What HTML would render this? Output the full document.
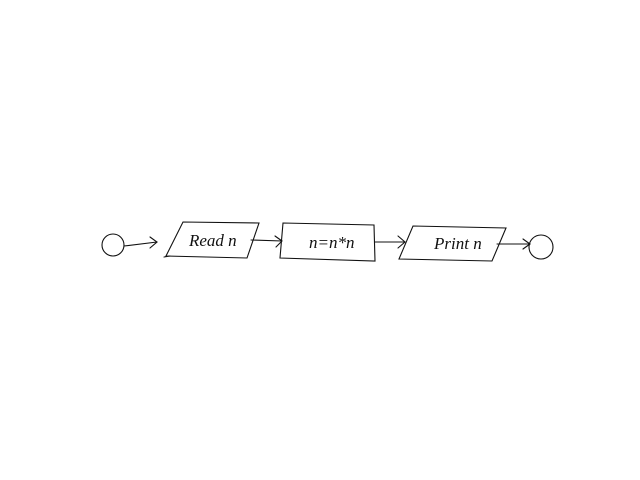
<!DOCTYPE html>
<html><head><meta charset="utf-8"><style>
html,body{margin:0;padding:0;background:#fff;width:640px;height:480px;overflow:hidden}
svg{display:block}
text{font-family:"Liberation Serif",serif;font-style:italic;font-size:17px;fill:#111}
</style></head><body>
<svg width="640" height="480" fill="none" stroke="#111" stroke-width="1.1" stroke-linecap="round">
<circle cx="113" cy="245" r="11"/>
<g><path d="M124 246 L157 242"/><path d="M150 237 L157 242 L150 248"/></g>
<g><path d="M183 222 L259 223 L247 258 L166 256 Z"/><path d="M164 257 L170 256"/><text x="189" y="246" stroke="none">Read n</text></g>
<g><path d="M251 240 L282 241"/><path d="M275 236 L282 241 L276 247"/></g>
<g><path d="M283 223 L374 225 L375 261 L280 258 Z"/><text x="309" y="248" stroke="none">n=n*n</text></g>
<g><path d="M375 242 L404 242"/><path d="M398 236 L405 242 L398 248"/></g>
<g><path d="M413 226 L506 228 L492 261 L399 259 Z"/><text x="434" y="249" stroke="none">Print n</text></g>
<g><path d="M497 244 L530 244"/><path d="M523 239 L530 244 L523 249"/></g>
<circle cx="541" cy="247" r="12"/>
</svg>
</body></html>
